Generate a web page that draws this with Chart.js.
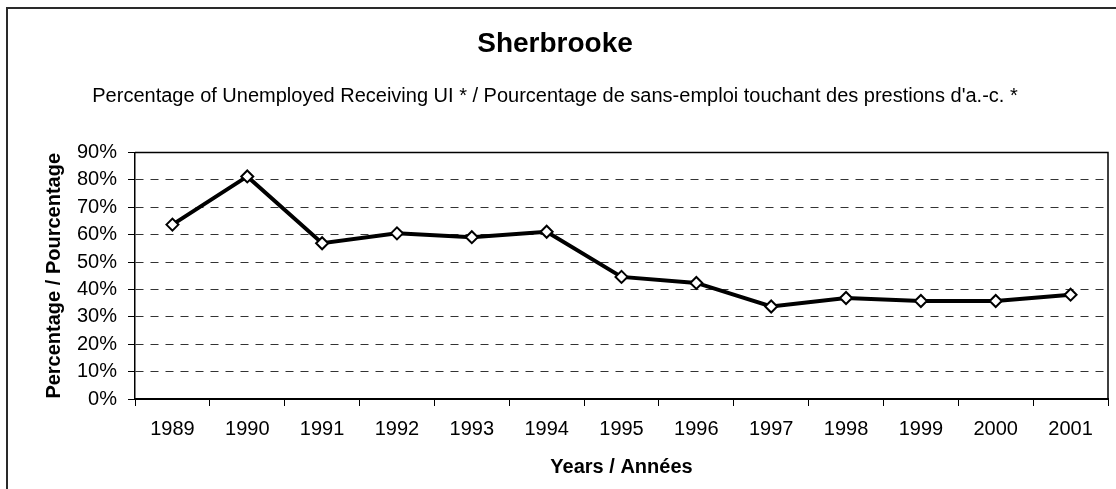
<!DOCTYPE html>
<html>
<head>
<meta charset="utf-8">
<script src="https://cdn.jsdelivr.net/npm/chart.js@4"></script>
<style>
  html, body { margin: 0; padding: 0; background: #fff; }
  #cadre { position: absolute; left: 6px; top: 7px; width: 1200px; height: 600px; border: 2px solid #2a2a2a; }
  #zone { position: absolute; left: 0; top: 0; width: 1116px; height: 489px; }
</style>
</head>
<body>
<div id="cadre"></div>
<div id="zone"><canvas id="graphique" width="1116" height="489"></canvas></div>
<script>
// Données
const annees = ['1989', '1990', '1991', '1992', '1993', '1994', '1995', '1996', '1997', '1998', '1999', '2000', '2001'];
const pourcentages = [63.7, 81.3, 56.9, 60.5, 59.1, 61.1, 44.6, 42.4, 33.8, 36.9, 35.8, 35.8, 38.1];
const titre = 'Sherbrooke';
const sousTitre = "Percentage of Unemployed Receiving UI * / Pourcentage de sans-emploi touchant des prestions d'a.-c. *";
const titreX = 'Years / Années';
const titreY = 'Percentage / Pourcentage';

const police = "'Liberation Sans', Arial, sans-serif";

// cadre de la zone de tracé (haut et droite en trait plein)
const cadreZone = {
  id: 'cadreZone',
  afterDatasetsDraw(chart) {
    const { ctx, chartArea: a } = chart;
    ctx.save();
    ctx.strokeStyle = '#000';
    ctx.lineWidth = 1.5;
    ctx.beginPath();
    ctx.moveTo(a.left, a.top);
    ctx.lineTo(a.right, a.top);
    ctx.lineTo(a.right, a.bottom);
    ctx.stroke();
    ctx.restore();
  }
};

const ctx = document.getElementById('graphique').getContext('2d');
new Chart(ctx, {
  type: 'line',
  data: {
    labels: annees,
    datasets: [{
      data: pourcentages,
      borderColor: '#000',
      borderWidth: 4,
      tension: 0,
      pointStyle: 'rectRot',
      pointRadius: 6,
      pointBackgroundColor: '#fff',
      pointBorderColor: '#000',
      pointBorderWidth: 2
    }]
  },
  options: {
    responsive: false,
    animation: false,
    layout: { padding: { top: 27, left: 0, right: 6, bottom: 10 } },
    plugins: {
      legend: { display: false },
      tooltip: { enabled: false },
      title: {
        display: true,
        text: titre,
        color: '#000',
        font: { family: police, size: 28, weight: 'bold' },
        padding: { top: 0, bottom: 0 }
      },
      subtitle: {
        display: true,
        text: sousTitre,
        color: '#000',
        font: { family: police, size: 20 },
        padding: { top: 24, bottom: 44 }
      }
    },
    scales: {
      x: {
        offset: true,
        grid: { offset: true, drawOnChartArea: false, drawTicks: true, tickLength: 7, color: '#000', tickColor: '#000' },
        border: { color: '#000', width: 2 },
        ticks: { color: '#000', font: { family: police, size: 20 }, padding: 11, maxRotation: 0, autoSkip: false },
        title: { display: true, text: titreX, color: '#000', font: { family: police, size: 20, weight: 'bold' }, padding: { top: 3, bottom: 0 } }
      },
      y: {
        min: 0,
        max: 90,
        afterFit: (s) => { s.width = 135; },
        grid: { color: '#333', lineWidth: 1, tickLength: 7, tickColor: '#000', tickWidth: 1 },
        border: { color: '#000', width: 1.5, dash: [8, 7] },
        ticks: { stepSize: 10, autoSkip: false, color: '#000', font: { family: police, size: 20 }, padding: 11, callback: (v) => v + '%' },
        title: { display: true, text: titreY, color: '#000', font: { family: police, size: 20, weight: 'bold' }, padding: { top: 42, bottom: 0 } }
      }
    }
  },
  plugins: [cadreZone]
});
</script>
</body>
</html>
